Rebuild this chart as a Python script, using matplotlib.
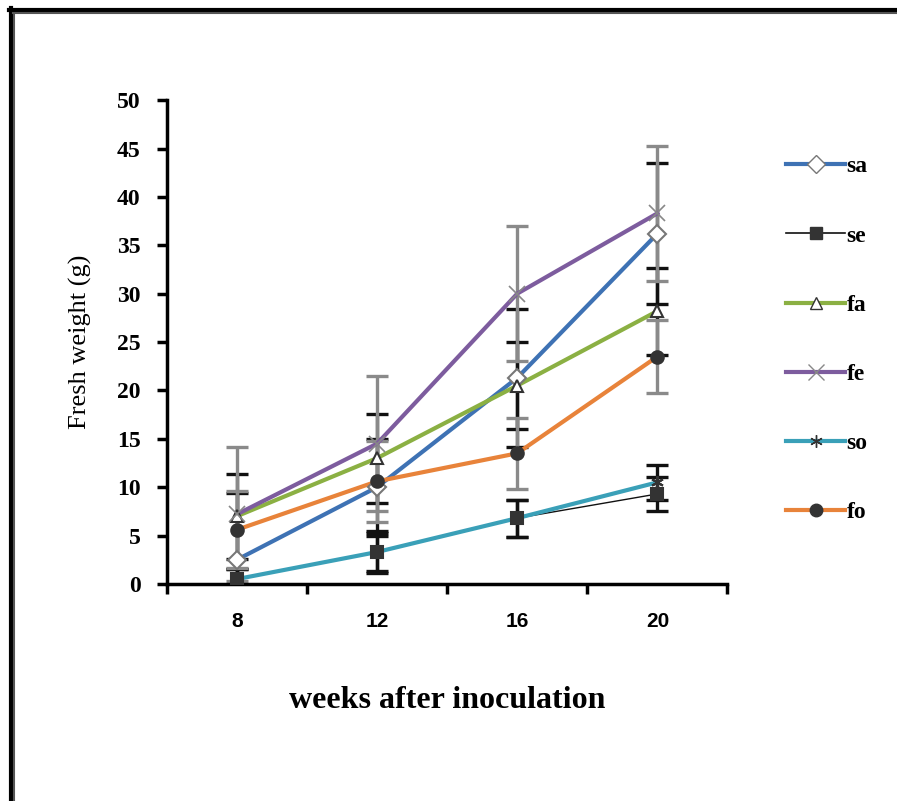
import matplotlib
matplotlib.use("Agg")
import matplotlib.pyplot as plt
from matplotlib.lines import Line2D

weeks = ["8", "12", "16", "20"]

sa = [2.5, 10.0, 21.3, 36.2]
se = [0.5, 3.3, 6.8, 9.3]
fa = [7.0, 13.0, 20.5, 28.2]
fe = [7.2, 14.5, 30.0, 38.3]
so = [0.5, 3.3, 6.8, 10.5]
fo = [5.6, 10.6, 13.5, 23.5]

sa_err = [6.9, 5.0, 7.1, 7.3]
se_err = [1.0, 2.0, 1.9, 1.8]
fa_err = [4.4, 4.6, 4.5, 4.5]
fe_err = [6.9, 7.0, 7.0, 7.0]
so_err = [1.0, 2.2, 1.9, 1.8]
fo_err = [4.0, 4.2, 3.7, 3.8]

series = [
    # label, values, errors, line colour, width, marker, face, edge, err colour
    ("sa", sa, sa_err, "#3E72B4", 3.0, "D", "white", "#777777", "#111111"),
    ("se", se, se_err, "#111111", 1.0, "s", "#333333", "#333333", "#111111"),
    ("fa", fa, fa_err, "#8BB043", 3.0, "^", "white", "#333333", "#111111"),
    ("fe", fe, fe_err, "#7D5C9E", 3.0, "x", "white", "#888888", "#8a8a8a"),
    ("so", so, so_err, "#3AA0B8", 3.0, (6, 2, 0), "#333333", "#333333", "#111111"),
    ("fo", fo, fo_err, "#E8833A", 3.0, "o", "#333333", "#333333", "#8a8a8a"),
]

fig = plt.figure(figsize=(8.97, 8.01), dpi=100)
ax = fig.add_axes([0.186, 0.271, 0.625, 0.604])

x = list(range(len(weeks)))
handles = []
for label, vals, errs, col, lw, mk, fc, ec, errc in series:
    ax.errorbar(x, vals, yerr=errs, fmt="none", ecolor=errc,
                elinewidth=2.4, capsize=8, capthick=2.4, zorder=2)
    ax.plot(x, vals, color=col, lw=lw, zorder=3)
    ms = 9 if mk != "x" else 12
    ax.plot(x, vals, ls="none", marker=mk, ms=ms, mfc=fc, mec=ec,
            mew=1.5 if mk != "x" else 1.2, zorder=4)
    handles.append(Line2D([], [], color=col, lw=lw if lw > 1 else 1.2,
                          marker=mk, ms=ms, mfc=fc, mec=ec, label=label))

ax.set_xlim(-0.5, 3.5)
ax.set_ylim(0, 50)
ax.set_yticks(range(0, 51, 5))
ax.set_xticks(x)
ax.set_xticklabels(weeks, fontfamily="Liberation Sans", fontweight="bold",
                   fontsize=15)
ax.set_xticks([-0.5, 0.5, 1.5, 2.5, 3.5], minor=True)
ax.tick_params(axis="x", which="major", length=0, pad=20)
ax.tick_params(axis="x", which="minor", length=7, width=2.5)
ax.tick_params(axis="y", length=7, width=2.5, pad=12)
for t in ax.get_yticklabels():
    t.set_fontfamily("Liberation Serif")
    t.set_fontweight("bold")
    t.set_fontsize(17)

for side in ["top", "right"]:
    ax.spines[side].set_visible(False)
for side in ["left", "bottom"]:
    ax.spines[side].set_linewidth(2.5)

ax.set_ylabel("Fresh weight (g)", fontfamily="Liberation Serif",
              fontsize=19, labelpad=18)
ax.set_xlabel("weeks after inoculation", fontfamily="Liberation Serif",
              fontweight="bold", fontsize=23, labelpad=40)

fig.legend(handles=handles, loc="upper left", bbox_to_anchor=(0.853, 0.832),
           frameon=False, handlelength=2.5, handletextpad=0.05,
           labelspacing=2.02,
           prop={"family": "Liberation Serif", "weight": "bold", "size": 17})

# outer frame (left and top edges only)
fig.add_artist(Line2D([0.012, 0.012], [0, 0.99], color="black", lw=3,
                      transform=fig.transFigure))
fig.add_artist(Line2D([0.010, 1.0], [0.988, 0.988], color="black", lw=3,
                      transform=fig.transFigure))
fig.add_artist(Line2D([0.0155, 0.0155], [0, 0.983], color="#555555", lw=1.5,
                      transform=fig.transFigure))
fig.add_artist(Line2D([0.014, 1.0], [0.984, 0.984], color="#555555", lw=1.5,
                      transform=fig.transFigure))

fig.savefig("out.png", dpi=100)
